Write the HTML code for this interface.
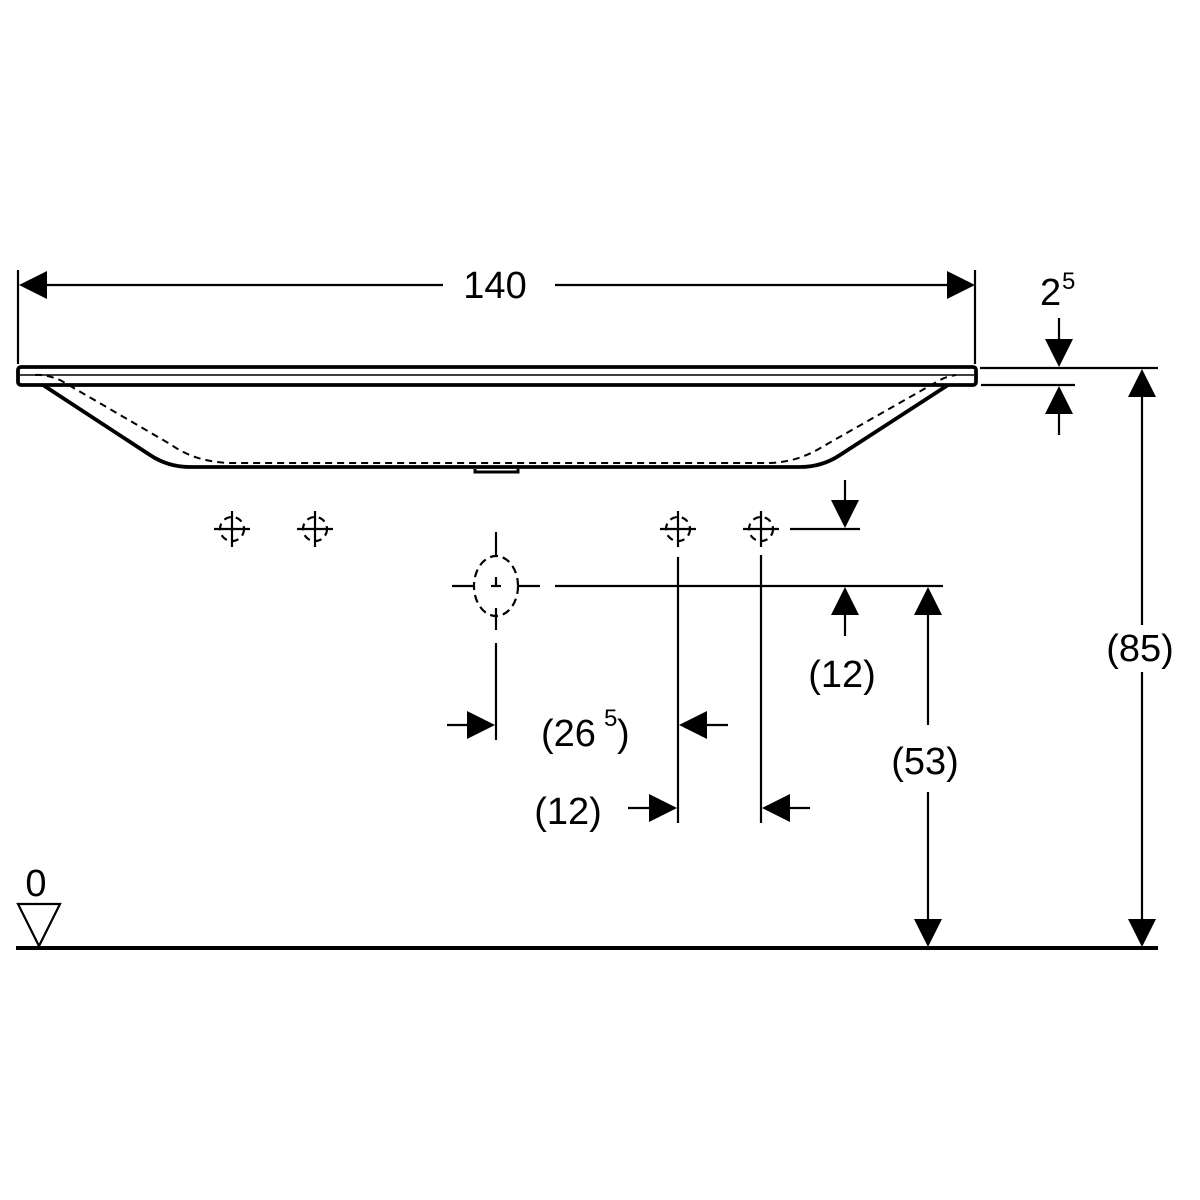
<!DOCTYPE html>
<html><head><meta charset="utf-8"><style>
html,body{margin:0;padding:0;background:#fff;}
svg{display:block}
text{font-family:"Liberation Sans",sans-serif;fill:#000;}
</style></head><body>
<svg width="1200" height="1200" viewBox="0 0 1200 1200" xmlns="http://www.w3.org/2000/svg">
<rect width="1200" height="1200" fill="#fff"/>
<g stroke="#000" fill="none">
<rect x="18" y="367" width="958" height="18" rx="3" stroke-width="3.8"/>
<line x1="20" y1="375" x2="974" y2="375" stroke-width="1.6"/>
<path d="M43 385 L150 455 Q168 467 190 467 L800 467 Q822 467 840 455 L948 385" stroke-width="3.8"/>
<path d="M35 375 Q45 374 60 380 L170 444 Q195 462 230 463 L770 463 Q798 462 822 447 L940 380 Q948 376 956 375" stroke-width="2" stroke-dasharray="7,5"/>
<path d="M475 469 L475 472 L518 472 L518 469" stroke-width="3"/>
<g stroke-width="2.2">
<line x1="18" y1="270" x2="18" y2="364"/>
<line x1="975" y1="270" x2="975" y2="364"/>
<line x1="980" y1="368" x2="1158" y2="368"/>
<line x1="981" y1="385" x2="1075" y2="385"/>
<line x1="40" y1="285" x2="443" y2="285"/>
<line x1="555" y1="285" x2="953" y2="285"/>
<line x1="1059" y1="318" x2="1059" y2="345"/>
<line x1="1059" y1="410" x2="1059" y2="435"/>
<line x1="1142" y1="395" x2="1142" y2="625"/>
<line x1="1142" y1="672" x2="1142" y2="922"/>
<line x1="928" y1="612" x2="928" y2="725"/>
<line x1="928" y1="792" x2="928" y2="922"/>
<line x1="845" y1="480" x2="845" y2="505"/>
<line x1="790" y1="529" x2="860" y2="529"/>
<line x1="845" y1="612" x2="845" y2="636"/>
<line x1="555" y1="586" x2="943" y2="586"/>
<line x1="496" y1="643" x2="496" y2="740"/>
<line x1="678" y1="557" x2="678" y2="823"/>
<line x1="761" y1="555" x2="761" y2="823"/>
<line x1="447" y1="725" x2="470" y2="725"/>
<line x1="705" y1="725" x2="728" y2="725"/>
<line x1="628" y1="808" x2="652" y2="808"/>
<line x1="788" y1="808" x2="810" y2="808"/>
<line x1="214" y1="529" x2="250" y2="529"/><line x1="232" y1="511" x2="232" y2="547"/><circle cx="232" cy="529" r="12" stroke-dasharray="7,5"/>
<line x1="297" y1="529" x2="333" y2="529"/><line x1="315" y1="511" x2="315" y2="547"/><circle cx="315" cy="529" r="12" stroke-dasharray="7,5"/>
<line x1="660" y1="529" x2="696" y2="529"/><line x1="678" y1="511" x2="678" y2="547"/><circle cx="678" cy="529" r="12" stroke-dasharray="7,5"/>
<line x1="743" y1="529" x2="779" y2="529"/><line x1="761" y1="511" x2="761" y2="547"/><circle cx="761" cy="529" r="12" stroke-dasharray="7,5"/>
<ellipse cx="496" cy="586" rx="22" ry="30" stroke-dasharray="8,5"/>
<line x1="496" y1="532" x2="496" y2="556"/><line x1="496" y1="608" x2="496" y2="630"/>
<line x1="452" y1="586" x2="474" y2="586"/><line x1="518" y1="586" x2="540" y2="586"/>
<line x1="496" y1="577" x2="496" y2="586"/><line x1="491" y1="586" x2="501" y2="586"/>
<polygon points="18,904 60,904 39,946"/>
</g>
<line x1="16" y1="948" x2="1158" y2="948" stroke-width="4"/>
</g>
<g fill="#000">
<polygon points="19,285 47,271 47,299"/>
<polygon points="975,285 947,271 947,299"/>
<polygon points="1059,367 1045,339 1073,339"/>
<polygon points="1059,386 1045,414 1073,414"/>
<polygon points="1142,369 1128,397 1156,397"/>
<polygon points="1142,947 1128,919 1156,919"/>
<polygon points="928,587 914,615 942,615"/>
<polygon points="928,947 914,919 942,919"/>
<polygon points="845,528 831,500 859,500"/>
<polygon points="845,587 831,615 859,615"/>
<polygon points="495,725 467,711 467,739"/>
<polygon points="679,725 707,711 707,739"/>
<polygon points="677,808 649,794 649,822"/>
<polygon points="762,808 790,794 790,822"/>
</g>
<g font-size="38">
<text x="495" y="298" text-anchor="middle">140</text>
<text x="1040" y="305">2</text><text x="1062" y="289" font-size="24">5</text>
<text x="1140" y="661" text-anchor="middle">(85)</text>
<text x="925" y="774" text-anchor="middle">(53)</text>
<text x="842" y="687" text-anchor="middle">(12)</text>
<text x="541" y="746">(26</text><text x="604" y="726" font-size="24">5</text><text x="617" y="746">)</text>
<text x="568" y="824" text-anchor="middle">(12)</text>
<text x="36" y="896" text-anchor="middle">0</text>
</g>
</svg>
</body></html>
